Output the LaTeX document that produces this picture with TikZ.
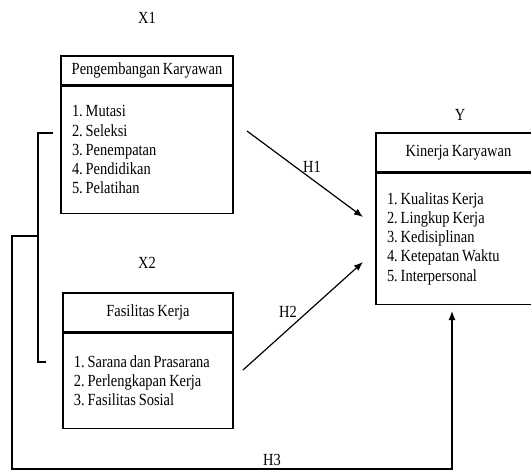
\documentclass[tikz,border=0pt]{standalone}
\usepackage{fontspec}
\setmainfont{Liberation Serif}[FakeStretch=0.85,WordSpace=0.8]
\frenchspacing
\usetikzlibrary{positioning,arrows.meta}

\tikzset{
  judul/.style={draw, line width=1.2pt, inner sep=0pt},
  isi/.style={draw, line width=1.2pt, align=flush left, inner xsep=11pt, inner ysep=0pt},
  garis/.style={line width=1.2pt},
  panah/.style={garis, -{Latex[length=9pt,width=7pt]}},
}

\begin{document}
\begin{tikzpicture}[x=1pt,y=-1pt,font=\fontsize{17}{19.2}\selectfont]
  \useasboundingbox (0,0) rectangle (531,475);
  \clip (0,0) rectangle (531,475);
  % X1
  \node (lx1) at (147,18) {X1};
  \node[judul, minimum width=172pt, minimum height=29pt] (x1judul) at (147,70.5) {Pengembangan Karyawan};
  \node[isi, text width=150pt, minimum height=127pt, below=0pt of x1judul] (x1isi)
    {1. Mutasi\\2. Seleksi\\3. Penempatan\\4. Pendidikan\\5. Pelatihan};
  % X2
  \node (lx2) at (147,263) {X2};
  \node[judul, minimum width=170pt, minimum height=39pt] (x2judul) at (148,312.5) {Fasilitas Kerja};
  \node[isi, text width=148pt, minimum height=95pt, below=0pt of x2judul] (x2isi)
    {1. Sarana dan Prasarana\\2. Perlengkapan Kerja\\3. Fasilitas Sosial};
  % Y
  \node (ly) at (460,115) {Y};
  \node[judul, minimum width=165pt, minimum height=39pt] (yjudul) at (458.5,152.5) {Kinerja Karyawan};
  \node[isi, text width=143pt, minimum height=131pt, below=0pt of yjudul] (yisi)
    {1. Kualitas Kerja\\2. Lingkup Kerja\\3. Kedisiplinan\\4. Ketepatan Waktu\\5. Interpersonal};
  % hipotesis
  \coordinate (h1a) at (247,131);
  \coordinate (h1b) at (363,217);
  \coordinate (h2a) at (243,370);
  \coordinate (h2b) at (363,262);
  \draw[panah] (h1a) -- (h1b);
  \draw[panah] (h2a) -- (h2b);
  \node (lh1) at (312,167) {H1};
  \node (lh2) at (288,312) {H2};
  % kurung dan H3
  \coordinate (k1) at (53,133);
  \coordinate (k2) at (46,362);
  \draw[garis] (k1) -- ++(-15,0) |- (k2);
  \coordinate (m1) at (38,236);
  \coordinate (m2) at (452,311);
  \draw[panah] (m1) -- ++(-26,0) -- ++(0,233) -| (m2);
  \node (lh3) at (272,460) {H3};
\end{tikzpicture}
\end{document}
